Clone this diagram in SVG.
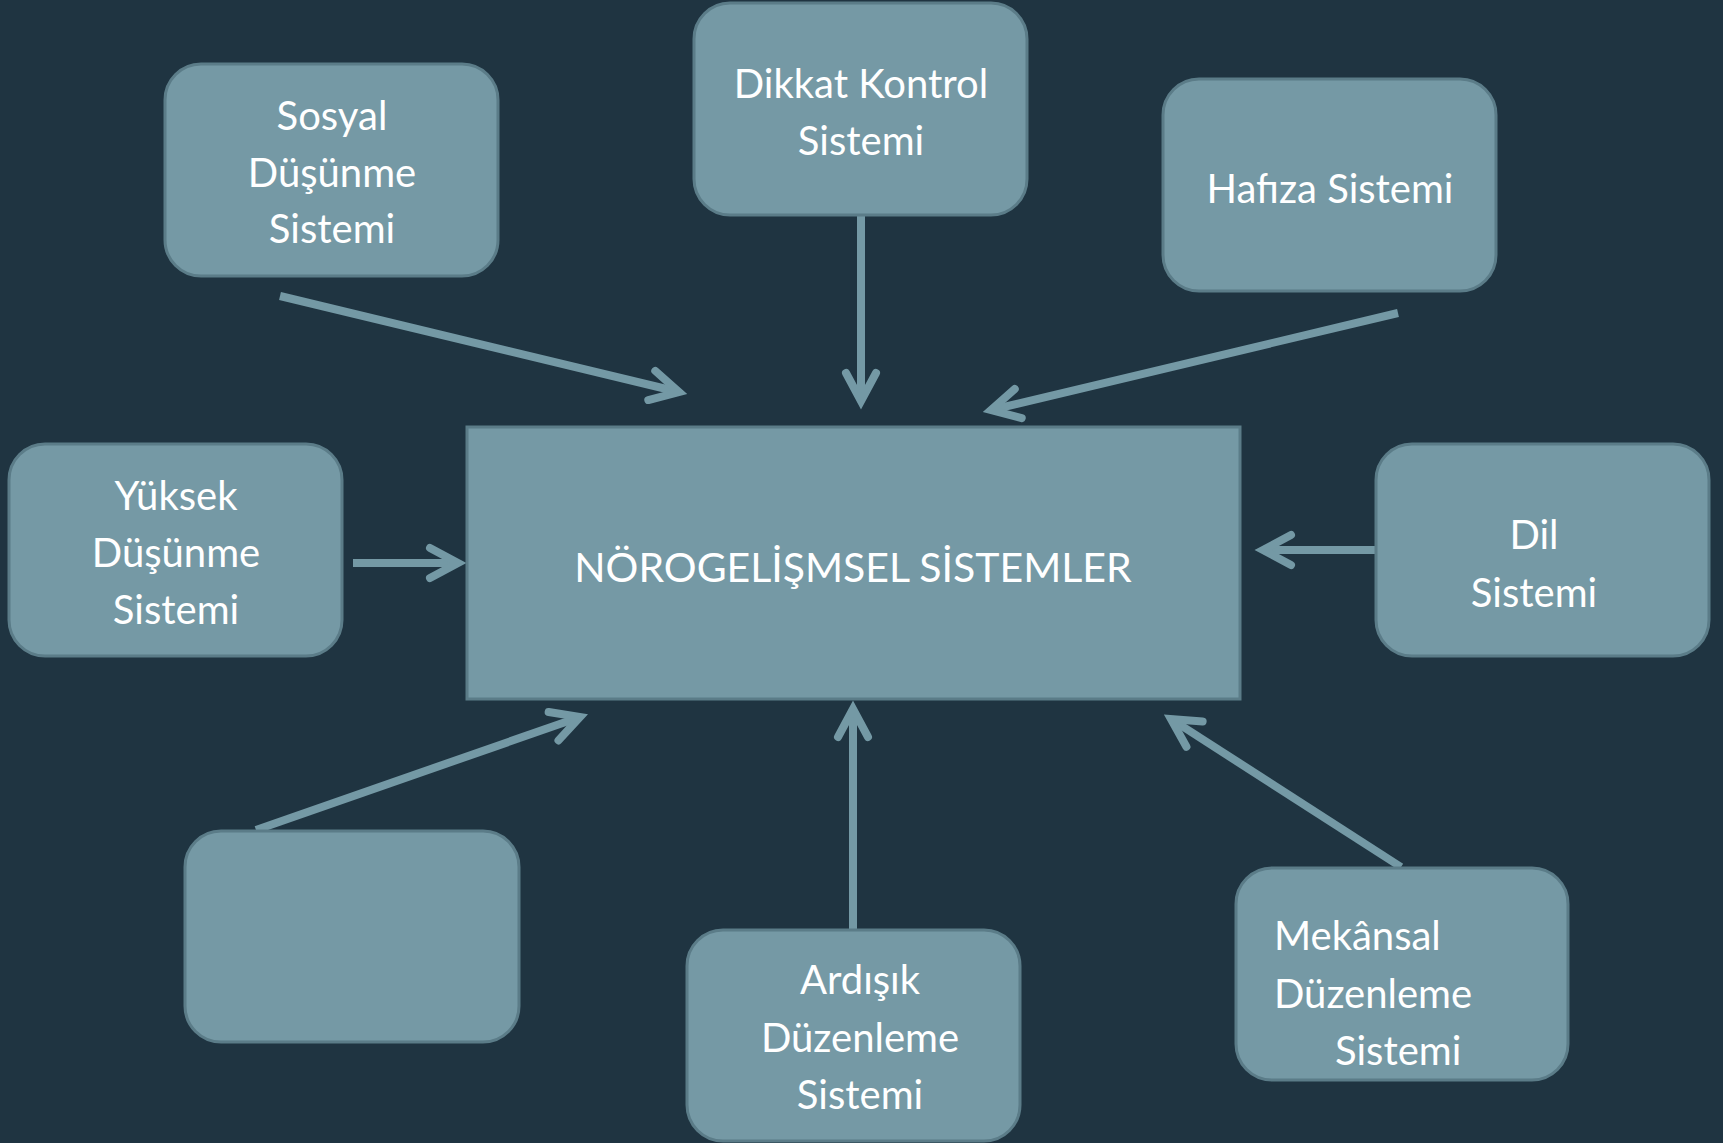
<svg xmlns="http://www.w3.org/2000/svg" width="1723" height="1143" viewBox="0 0 1723 1143">
<defs>
<style>
.box{fill:#7599a5;stroke:#5b7c88;stroke-width:3}
.center{fill:#7599a5;stroke:#5b7c88;stroke-width:3}
.t{font-family:Lato,"Noto Sans","Liberation Sans",sans-serif;font-size:40px;fill:#ffffff;text-anchor:middle}
.tl{text-anchor:start}
.ct{font-size:41px}
.c{fill:none;stroke:#7499a5;stroke-width:8;marker-end:url(#ah)}
</style>
<marker id="ah" markerUnits="userSpaceOnUse" viewBox="-40 -24 50 48" refX="0" refY="0" markerWidth="50" markerHeight="48" orient="auto">
<path d="M-28,-15 L0,0 L-28,15" fill="none" stroke="#7499a5" stroke-width="8" stroke-linecap="round" stroke-linejoin="miter" stroke-miterlimit="10"/>
</marker>
</defs>
<rect x="0" y="0" width="1723" height="1143" fill="#1f3441"/>
<g id="connectors">
<line class="c" x1="280" y1="296" x2="679" y2="392"/>
<line class="c" x1="861" y1="215" x2="861" y2="401"/>
<line class="c" x1="1398" y1="313" x2="991" y2="410"/>
<line class="c" x1="353" y1="563" x2="458" y2="563"/>
<line class="c" x1="1375" y1="550" x2="1263" y2="550"/>
<line class="c" x1="256" y1="830" x2="580" y2="717"/>
<line class="c" x1="853" y1="929" x2="853" y2="709"/>
<line class="c" x1="1401" y1="867" x2="1171" y2="719"/>
</g>
<g id="center">
<rect class="center" x="467" y="427" width="773" height="272"/>
<text class="t ct" x="853" y="582">NÖROGELİŞMSEL SİSTEMLER</text>
</g>
<g id="sosyal">
<rect class="box" x="165" y="64" width="333" height="212" rx="36"/>
<text class="t" x="332" y="130">Sosyal</text>
<text class="t" x="332" y="187">Düşünme</text>
<text class="t" x="332" y="243">Sistemi</text>
</g>
<g id="dikkat">
<rect class="box" x="694" y="3" width="333" height="212" rx="36"/>
<text class="t" x="861" y="98">Dikkat Kontrol</text>
<text class="t" x="861" y="155">Sistemi</text>
</g>
<g id="hafiza">
<rect class="box" x="1163" y="79" width="333" height="212" rx="36"/>
<text class="t" x="1330" y="203">Hafıza Sistemi</text>
</g>
<g id="yuksek">
<rect class="box" x="9" y="444" width="333" height="212" rx="36"/>
<text class="t" x="176" y="510">Yüksek</text>
<text class="t" x="176" y="567">Düşünme</text>
<text class="t" x="176" y="624">Sistemi</text>
</g>
<g id="dil">
<rect class="box" x="1376" y="444" width="333" height="212" rx="36"/>
<text class="t" x="1534" y="549">Dil</text>
<text class="t" x="1534" y="607">Sistemi</text>
</g>
<g id="empty">
<rect class="box" x="185" y="831" width="334" height="211" rx="36"/>
</g>
<g id="ardisik">
<rect class="box" x="687" y="930" width="333" height="211" rx="36"/>
<text class="t" x="860" y="994">Ardışık</text>
<text class="t" x="860" y="1052">Düzenleme</text>
<text class="t" x="860" y="1109">Sistemi</text>
</g>
<g id="mekansal">
<rect class="box" x="1236" y="868" width="332" height="212" rx="36"/>
<text class="t tl" x="1274" y="950">Mekânsal</text>
<text class="t tl" x="1274" y="1008">Düzenleme</text>
<text class="t tl" x="1335" y="1065">Sistemi</text>
</g>
</svg>
